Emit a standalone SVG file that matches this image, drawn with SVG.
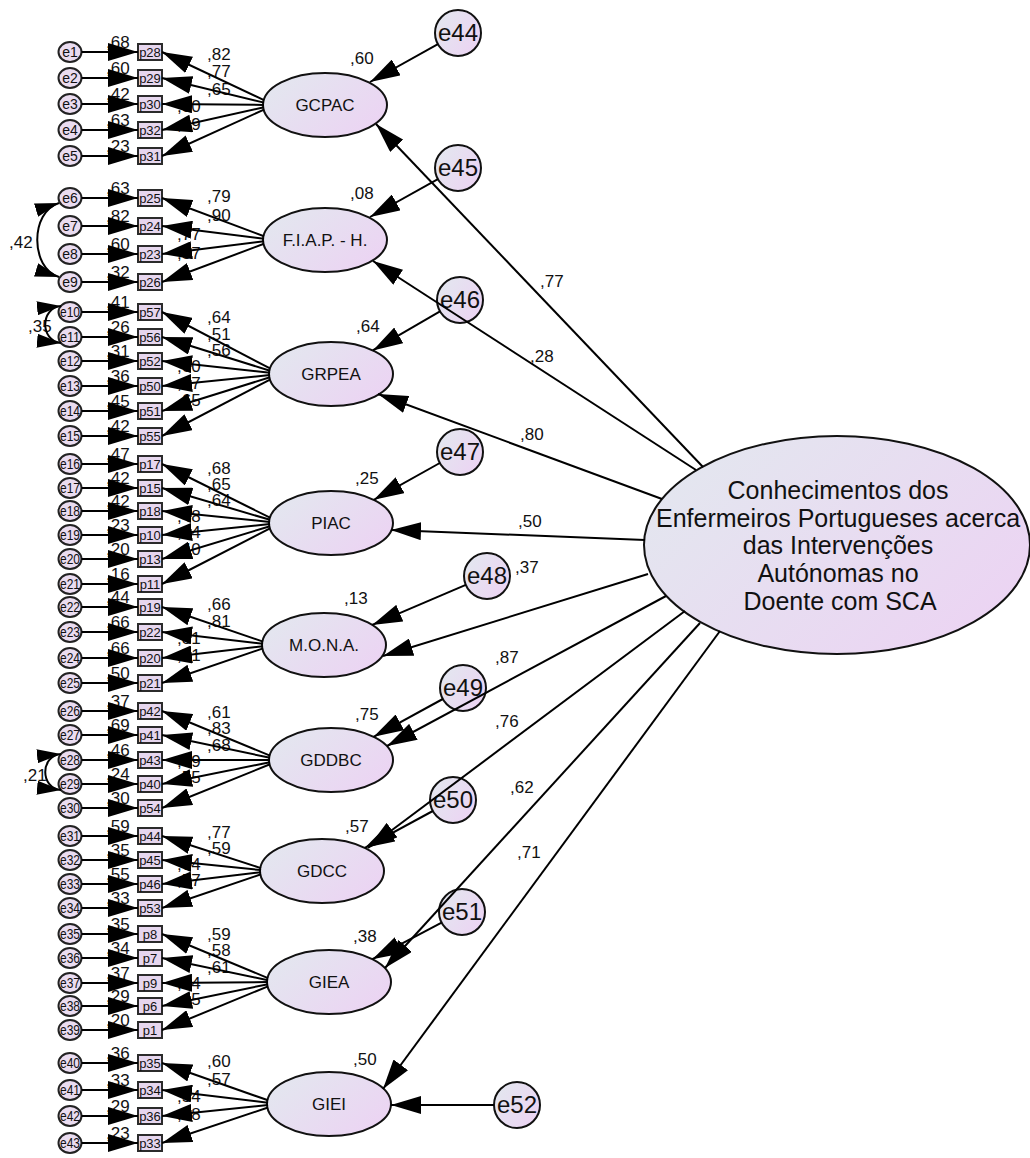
<svg xmlns="http://www.w3.org/2000/svg" width="1030" height="1158" viewBox="0 0 1030 1158">
<defs>
<linearGradient id="g" x1="0" y1="0.2" x2="1" y2="0.8"><stop offset="0" stop-color="#e3e7ef"/><stop offset="1" stop-color="#ecd3f3"/></linearGradient>
<marker id="ah" markerUnits="userSpaceOnUse" markerWidth="30" markerHeight="18" refX="30" refY="9" orient="auto"><path d="M0,0 L30,9 L0,18 Z" fill="#000"/></marker>
<marker id="ac" markerUnits="userSpaceOnUse" markerWidth="24" markerHeight="14" refX="24" refY="7" orient="auto-start-reverse"><path d="M0,0 L24,7 L0,14 Z" fill="#000"/></marker>
</defs>
<style>
text{font-family:"Liberation Sans",Arial,sans-serif;fill:#111}
.lv{fill:url(#g);stroke:#111;stroke-width:2}
.ec{fill:#eadcf0;stroke:#222;stroke-width:2}
.bx{fill:#e6d6ee;stroke:#2b2b2b;stroke-width:2}
.et{font-size:14px;text-anchor:middle}
.bt{font-size:13px;text-anchor:middle}
.n{font-size:17px}
.lt{font-size:17px;text-anchor:middle}
.xt{font-size:24px;text-anchor:middle}
.big{font-size:25px;text-anchor:middle}
.ln{stroke:#000;stroke-width:2;fill:none;marker-end:url(#ah)}
.cv{stroke:#000;stroke-width:2;fill:none;marker-start:url(#ac);marker-end:url(#ac)}
</style>
<rect width="1030" height="1158" fill="#fff"/>

<g id="nodes">
<g id="e1"><ellipse class="ec" cx="70" cy="52" rx="11.5" ry="10"/><text class="et" x="70" y="57">e1</text></g>
<g id="e2"><ellipse class="ec" cx="70" cy="78" rx="11.5" ry="10"/><text class="et" x="70" y="83">e2</text></g>
<g id="e3"><ellipse class="ec" cx="70" cy="104" rx="11.5" ry="10"/><text class="et" x="70" y="109">e3</text></g>
<g id="e4"><ellipse class="ec" cx="70" cy="130" rx="11.5" ry="10"/><text class="et" x="70" y="135">e4</text></g>
<g id="e5"><ellipse class="ec" cx="70" cy="156" rx="11.5" ry="10"/><text class="et" x="70" y="161">e5</text></g>
<g id="e6"><ellipse class="ec" cx="70" cy="198" rx="11.5" ry="10"/><text class="et" x="70" y="203">e6</text></g>
<g id="e7"><ellipse class="ec" cx="70" cy="226" rx="11.5" ry="10"/><text class="et" x="70" y="231">e7</text></g>
<g id="e8"><ellipse class="ec" cx="70" cy="254" rx="11.5" ry="10"/><text class="et" x="70" y="259">e8</text></g>
<g id="e9"><ellipse class="ec" cx="70" cy="282" rx="11.5" ry="10"/><text class="et" x="70" y="287">e9</text></g>
<g id="e10"><ellipse class="ec" cx="70" cy="312" rx="11.5" ry="10"/><text class="et" x="70" y="317" textLength="20" lengthAdjust="spacingAndGlyphs">e10</text></g>
<g id="e11"><ellipse class="ec" cx="70" cy="337" rx="11.5" ry="10"/><text class="et" x="70" y="342" textLength="20" lengthAdjust="spacingAndGlyphs">e11</text></g>
<g id="e12"><ellipse class="ec" cx="70" cy="361" rx="11.5" ry="10"/><text class="et" x="70" y="366" textLength="20" lengthAdjust="spacingAndGlyphs">e12</text></g>
<g id="e13"><ellipse class="ec" cx="70" cy="386" rx="11.5" ry="10"/><text class="et" x="70" y="391" textLength="20" lengthAdjust="spacingAndGlyphs">e13</text></g>
<g id="e14"><ellipse class="ec" cx="70" cy="411" rx="11.5" ry="10"/><text class="et" x="70" y="416" textLength="20" lengthAdjust="spacingAndGlyphs">e14</text></g>
<g id="e15"><ellipse class="ec" cx="70" cy="436" rx="11.5" ry="10"/><text class="et" x="70" y="441" textLength="20" lengthAdjust="spacingAndGlyphs">e15</text></g>
<g id="e16"><ellipse class="ec" cx="70" cy="464" rx="11.5" ry="10"/><text class="et" x="70" y="469" textLength="20" lengthAdjust="spacingAndGlyphs">e16</text></g>
<g id="e17"><ellipse class="ec" cx="70" cy="488" rx="11.5" ry="10"/><text class="et" x="70" y="493" textLength="20" lengthAdjust="spacingAndGlyphs">e17</text></g>
<g id="e18"><ellipse class="ec" cx="70" cy="511" rx="11.5" ry="10"/><text class="et" x="70" y="516" textLength="20" lengthAdjust="spacingAndGlyphs">e18</text></g>
<g id="e19"><ellipse class="ec" cx="70" cy="535" rx="11.5" ry="10"/><text class="et" x="70" y="540" textLength="20" lengthAdjust="spacingAndGlyphs">e19</text></g>
<g id="e20"><ellipse class="ec" cx="70" cy="559" rx="11.5" ry="10"/><text class="et" x="70" y="564" textLength="20" lengthAdjust="spacingAndGlyphs">e20</text></g>
<g id="e21"><ellipse class="ec" cx="70" cy="584" rx="11.5" ry="10"/><text class="et" x="70" y="589" textLength="20" lengthAdjust="spacingAndGlyphs">e21</text></g>
<g id="e22"><ellipse class="ec" cx="70" cy="607" rx="11.5" ry="10"/><text class="et" x="70" y="612" textLength="20" lengthAdjust="spacingAndGlyphs">e22</text></g>
<g id="e23"><ellipse class="ec" cx="70" cy="632" rx="11.5" ry="10"/><text class="et" x="70" y="637" textLength="20" lengthAdjust="spacingAndGlyphs">e23</text></g>
<g id="e24"><ellipse class="ec" cx="70" cy="658" rx="11.5" ry="10"/><text class="et" x="70" y="663" textLength="20" lengthAdjust="spacingAndGlyphs">e24</text></g>
<g id="e25"><ellipse class="ec" cx="70" cy="683" rx="11.5" ry="10"/><text class="et" x="70" y="688" textLength="20" lengthAdjust="spacingAndGlyphs">e25</text></g>
<g id="e26"><ellipse class="ec" cx="70" cy="711" rx="11.5" ry="10"/><text class="et" x="70" y="716" textLength="20" lengthAdjust="spacingAndGlyphs">e26</text></g>
<g id="e27"><ellipse class="ec" cx="70" cy="735" rx="11.5" ry="10"/><text class="et" x="70" y="740" textLength="20" lengthAdjust="spacingAndGlyphs">e27</text></g>
<g id="e28"><ellipse class="ec" cx="70" cy="760" rx="11.5" ry="10"/><text class="et" x="70" y="765" textLength="20" lengthAdjust="spacingAndGlyphs">e28</text></g>
<g id="e29"><ellipse class="ec" cx="70" cy="784" rx="11.5" ry="10"/><text class="et" x="70" y="789" textLength="20" lengthAdjust="spacingAndGlyphs">e29</text></g>
<g id="e30"><ellipse class="ec" cx="70" cy="808" rx="11.5" ry="10"/><text class="et" x="70" y="813" textLength="20" lengthAdjust="spacingAndGlyphs">e30</text></g>
<g id="e31"><ellipse class="ec" cx="70" cy="836" rx="11.5" ry="10"/><text class="et" x="70" y="841" textLength="20" lengthAdjust="spacingAndGlyphs">e31</text></g>
<g id="e32"><ellipse class="ec" cx="70" cy="860" rx="11.5" ry="10"/><text class="et" x="70" y="865" textLength="20" lengthAdjust="spacingAndGlyphs">e32</text></g>
<g id="e33"><ellipse class="ec" cx="70" cy="884" rx="11.5" ry="10"/><text class="et" x="70" y="889" textLength="20" lengthAdjust="spacingAndGlyphs">e33</text></g>
<g id="e34"><ellipse class="ec" cx="70" cy="908" rx="11.5" ry="10"/><text class="et" x="70" y="913" textLength="20" lengthAdjust="spacingAndGlyphs">e34</text></g>
<g id="e35"><ellipse class="ec" cx="70" cy="934" rx="11.5" ry="10"/><text class="et" x="70" y="939" textLength="20" lengthAdjust="spacingAndGlyphs">e35</text></g>
<g id="e36"><ellipse class="ec" cx="70" cy="958" rx="11.5" ry="10"/><text class="et" x="70" y="963" textLength="20" lengthAdjust="spacingAndGlyphs">e36</text></g>
<g id="e37"><ellipse class="ec" cx="70" cy="983" rx="11.5" ry="10"/><text class="et" x="70" y="988" textLength="20" lengthAdjust="spacingAndGlyphs">e37</text></g>
<g id="e38"><ellipse class="ec" cx="70" cy="1006" rx="11.5" ry="10"/><text class="et" x="70" y="1011" textLength="20" lengthAdjust="spacingAndGlyphs">e38</text></g>
<g id="e39"><ellipse class="ec" cx="70" cy="1030" rx="11.5" ry="10"/><text class="et" x="70" y="1035" textLength="20" lengthAdjust="spacingAndGlyphs">e39</text></g>
<g id="e40"><ellipse class="ec" cx="70" cy="1063" rx="11.5" ry="10"/><text class="et" x="70" y="1068" textLength="20" lengthAdjust="spacingAndGlyphs">e40</text></g>
<g id="e41"><ellipse class="ec" cx="70" cy="1090" rx="11.5" ry="10"/><text class="et" x="70" y="1095" textLength="20" lengthAdjust="spacingAndGlyphs">e41</text></g>
<g id="e42"><ellipse class="ec" cx="70" cy="1116" rx="11.5" ry="10"/><text class="et" x="70" y="1121" textLength="20" lengthAdjust="spacingAndGlyphs">e42</text></g>
<g id="e43"><ellipse class="ec" cx="70" cy="1143" rx="11.5" ry="10"/><text class="et" x="70" y="1148" textLength="20" lengthAdjust="spacingAndGlyphs">e43</text></g>

<g id="p28"><rect class="bx" x="138" y="44" width="24" height="16"/><text class="bt" x="150" y="56.5">p28</text></g>
<g id="p29"><rect class="bx" x="138" y="70" width="24" height="16"/><text class="bt" x="150" y="82.5">p29</text></g>
<g id="p30"><rect class="bx" x="138" y="96" width="24" height="16"/><text class="bt" x="150" y="108.5">p30</text></g>
<g id="p32"><rect class="bx" x="138" y="122" width="24" height="16"/><text class="bt" x="150" y="134.5">p32</text></g>
<g id="p31"><rect class="bx" x="138" y="148" width="24" height="16"/><text class="bt" x="150" y="160.5">p31</text></g>
<g id="p25"><rect class="bx" x="138" y="190" width="24" height="16"/><text class="bt" x="150" y="202.5">p25</text></g>
<g id="p24"><rect class="bx" x="138" y="218" width="24" height="16"/><text class="bt" x="150" y="230.5">p24</text></g>
<g id="p23"><rect class="bx" x="138" y="246" width="24" height="16"/><text class="bt" x="150" y="258.5">p23</text></g>
<g id="p26"><rect class="bx" x="138" y="274" width="24" height="16"/><text class="bt" x="150" y="286.5">p26</text></g>
<g id="p57"><rect class="bx" x="138" y="304" width="24" height="16"/><text class="bt" x="150" y="316.5">p57</text></g>
<g id="p56"><rect class="bx" x="138" y="329" width="24" height="16"/><text class="bt" x="150" y="341.5">p56</text></g>
<g id="p52"><rect class="bx" x="138" y="353" width="24" height="16"/><text class="bt" x="150" y="365.5">p52</text></g>
<g id="p50"><rect class="bx" x="138" y="378" width="24" height="16"/><text class="bt" x="150" y="390.5">p50</text></g>
<g id="p51"><rect class="bx" x="138" y="403" width="24" height="16"/><text class="bt" x="150" y="415.5">p51</text></g>
<g id="p55"><rect class="bx" x="138" y="428" width="24" height="16"/><text class="bt" x="150" y="440.5">p55</text></g>
<g id="p17"><rect class="bx" x="138" y="456" width="24" height="16"/><text class="bt" x="150" y="468.5">p17</text></g>
<g id="p15"><rect class="bx" x="138" y="480" width="24" height="16"/><text class="bt" x="150" y="492.5">p15</text></g>
<g id="p18"><rect class="bx" x="138" y="503" width="24" height="16"/><text class="bt" x="150" y="515.5">p18</text></g>
<g id="p10"><rect class="bx" x="138" y="527" width="24" height="16"/><text class="bt" x="150" y="539.5">p10</text></g>
<g id="p13"><rect class="bx" x="138" y="551" width="24" height="16"/><text class="bt" x="150" y="563.5">p13</text></g>
<g id="p11"><rect class="bx" x="138" y="576" width="24" height="16"/><text class="bt" x="150" y="588.5">p11</text></g>
<g id="p19"><rect class="bx" x="138" y="599" width="24" height="16"/><text class="bt" x="150" y="611.5">p19</text></g>
<g id="p22"><rect class="bx" x="138" y="624" width="24" height="16"/><text class="bt" x="150" y="636.5">p22</text></g>
<g id="p20"><rect class="bx" x="138" y="650" width="24" height="16"/><text class="bt" x="150" y="662.5">p20</text></g>
<g id="p21"><rect class="bx" x="138" y="675" width="24" height="16"/><text class="bt" x="150" y="687.5">p21</text></g>
<g id="p42"><rect class="bx" x="138" y="703" width="24" height="16"/><text class="bt" x="150" y="715.5">p42</text></g>
<g id="p41"><rect class="bx" x="138" y="727" width="24" height="16"/><text class="bt" x="150" y="739.5">p41</text></g>
<g id="p43"><rect class="bx" x="138" y="752" width="24" height="16"/><text class="bt" x="150" y="764.5">p43</text></g>
<g id="p40"><rect class="bx" x="138" y="776" width="24" height="16"/><text class="bt" x="150" y="788.5">p40</text></g>
<g id="p54"><rect class="bx" x="138" y="800" width="24" height="16"/><text class="bt" x="150" y="812.5">p54</text></g>
<g id="p44"><rect class="bx" x="138" y="828" width="24" height="16"/><text class="bt" x="150" y="840.5">p44</text></g>
<g id="p45"><rect class="bx" x="138" y="852" width="24" height="16"/><text class="bt" x="150" y="864.5">p45</text></g>
<g id="p46"><rect class="bx" x="138" y="876" width="24" height="16"/><text class="bt" x="150" y="888.5">p46</text></g>
<g id="p53"><rect class="bx" x="138" y="900" width="24" height="16"/><text class="bt" x="150" y="912.5">p53</text></g>
<g id="p8"><rect class="bx" x="138" y="926" width="24" height="16"/><text class="bt" x="150" y="938.5">p8</text></g>
<g id="p7"><rect class="bx" x="138" y="950" width="24" height="16"/><text class="bt" x="150" y="962.5">p7</text></g>
<g id="p9"><rect class="bx" x="138" y="975" width="24" height="16"/><text class="bt" x="150" y="987.5">p9</text></g>
<g id="p6"><rect class="bx" x="138" y="998" width="24" height="16"/><text class="bt" x="150" y="1010.5">p6</text></g>
<g id="p1"><rect class="bx" x="138" y="1022" width="24" height="16"/><text class="bt" x="150" y="1034.5">p1</text></g>
<g id="p35"><rect class="bx" x="138" y="1055" width="24" height="16"/><text class="bt" x="150" y="1067.5">p35</text></g>
<g id="p34"><rect class="bx" x="138" y="1082" width="24" height="16"/><text class="bt" x="150" y="1094.5">p34</text></g>
<g id="p36"><rect class="bx" x="138" y="1108" width="24" height="16"/><text class="bt" x="150" y="1120.5">p36</text></g>
<g id="p33"><rect class="bx" x="138" y="1135" width="24" height="16"/><text class="bt" x="150" y="1147.5">p33</text></g>

<g id="GCPAC"><ellipse class="lv" cx="325" cy="105" rx="62" ry="32"/><text class="lt" x="325" y="111">GCPAC</text></g>
<g id="FIAPH"><ellipse class="lv" cx="325" cy="240" rx="62" ry="32"/><text class="lt" x="325" y="246">F.I.A.P. - H.</text></g>
<g id="GRPEA"><ellipse class="lv" cx="331" cy="374" rx="62" ry="32"/><text class="lt" x="331" y="380">GRPEA</text></g>
<g id="PIAC"><ellipse class="lv" cx="331" cy="523" rx="62" ry="32"/><text class="lt" x="331" y="529">PIAC</text></g>
<g id="MONA"><ellipse class="lv" cx="324" cy="645" rx="62" ry="32"/><text class="lt" x="324" y="651">M.O.N.A.</text></g>
<g id="GDDBC"><ellipse class="lv" cx="331" cy="760" rx="62" ry="32"/><text class="lt" x="331" y="766">GDDBC</text></g>
<g id="GDCC"><ellipse class="lv" cx="322" cy="871" rx="62" ry="32"/><text class="lt" x="322" y="877">GDCC</text></g>
<g id="GIEA"><ellipse class="lv" cx="329" cy="982" rx="62" ry="32"/><text class="lt" x="329" y="988">GIEA</text></g>
<g id="GIEI"><ellipse class="lv" cx="329" cy="1104" rx="62" ry="32"/><text class="lt" x="329" y="1110">GIEI</text></g>

<g id="CEP"><ellipse class="lv" cx="837" cy="545" rx="193" ry="109"/>
<text class="big" x="838" y="499">Conhecimentos dos</text>
<text class="big" x="838" y="527">Enfermeiros Portugueses acerca</text>
<text class="big" x="838" y="554">das Intervenções</text>
<text class="big" x="838" y="582">Autónomas no</text>
<text class="big" x="840" y="610">Doente com SCA</text></g>

<g id="e44"><circle class="lv" cx="458" cy="33" r="23"/><text class="xt" x="458" y="41">e44</text></g>
<g id="e45"><circle class="lv" cx="458" cy="168" r="23"/><text class="xt" x="458" y="176">e45</text></g>
<g id="e46"><circle class="lv" cx="460" cy="300" r="23"/><text class="xt" x="460" y="308">e46</text></g>
<g id="e47"><circle class="lv" cx="460" cy="452" r="23"/><text class="xt" x="460" y="460">e47</text></g>
<g id="e48"><circle class="lv" cx="487" cy="576" r="23"/><text class="xt" x="487" y="584">e48</text></g>
<g id="e49"><circle class="lv" cx="463" cy="688" r="23"/><text class="xt" x="463" y="696">e49</text></g>
<g id="e50"><circle class="lv" cx="453" cy="800" r="23"/><text class="xt" x="453" y="808">e50</text></g>
<g id="e51"><circle class="lv" cx="462" cy="912" r="23"/><text class="xt" x="462" y="920">e51</text></g>
<g id="e52"><circle class="lv" cx="517" cy="1105" r="23"/><text class="xt" x="517" y="1113">e52</text></g>
</g>

<g id="labels" class="n">
<text x="106" y="48">,68</text><text x="106" y="74">,60</text><text x="106" y="100">,42</text><text x="106" y="126">,63</text><text x="106" y="152">,23</text>
<text x="106" y="194">,63</text><text x="106" y="222">,82</text><text x="106" y="250">,60</text><text x="106" y="278">,32</text>
<text x="106" y="308">,41</text><text x="106" y="333">,26</text><text x="106" y="357">,31</text><text x="106" y="382">,36</text><text x="106" y="407">,45</text><text x="106" y="432">,42</text>
<text x="106" y="460">,47</text><text x="106" y="484">,42</text><text x="106" y="507">,42</text><text x="106" y="531">,23</text><text x="106" y="555">,20</text><text x="106" y="580">,16</text>
<text x="106" y="603">,44</text><text x="106" y="628">,66</text><text x="106" y="654">,66</text><text x="106" y="679">,50</text>
<text x="106" y="707">,37</text><text x="106" y="731">,69</text><text x="106" y="756">,46</text><text x="106" y="780">,24</text><text x="106" y="804">,30</text>
<text x="106" y="832">,59</text><text x="106" y="856">,35</text><text x="106" y="880">,55</text><text x="106" y="904">,33</text>
<text x="106" y="930">,35</text><text x="106" y="954">,34</text><text x="106" y="979">,37</text><text x="106" y="1002">,29</text><text x="106" y="1026">,20</text>
<text x="106" y="1059">,36</text><text x="106" y="1086">,33</text><text x="106" y="1112">,29</text><text x="106" y="1139">,23</text>

<text x="207" y="60">,82</text><text x="207" y="77">,77</text><text x="207" y="95">,65</text><text x="177" y="112">,80</text><text x="177" y="130">,49</text>
<text x="207" y="202">,79</text><text x="207" y="221">,90</text><text x="177" y="240">,77</text><text x="177" y="259">,57</text>
<text x="207" y="323">,64</text><text x="207" y="340">,51</text><text x="207" y="356">,56</text><text x="177" y="372">,60</text><text x="177" y="389">,67</text><text x="177" y="406">,65</text>
<text x="207" y="474">,68</text><text x="207" y="490">,65</text><text x="207" y="506">,64</text><text x="177" y="522">,48</text><text x="177" y="538">,44</text><text x="177" y="555">,40</text>
<text x="207" y="610">,66</text><text x="207" y="627">,81</text><text x="177" y="644">,81</text><text x="177" y="661">,71</text>
<text x="207" y="718">,61</text><text x="207" y="734">,83</text><text x="207" y="751">,68</text><text x="177" y="767">,49</text><text x="177" y="783">,55</text>
<text x="207" y="838">,77</text><text x="207" y="854">,59</text><text x="177" y="870">,74</text><text x="177" y="886">,57</text>
<text x="207" y="940">,59</text><text x="207" y="956">,58</text><text x="207" y="973">,61</text><text x="177" y="989">,54</text><text x="177" y="1005">,45</text>
<text x="207" y="1067">,60</text><text x="207" y="1085">,57</text><text x="177" y="1102">,54</text><text x="177" y="1120">,48</text>

<text x="9" y="248">,42</text><text x="28" y="332">,35</text><text x="23" y="781">,21</text>

<text x="350" y="64">,60</text><text x="350" y="199">,08</text><text x="356" y="332">,64</text><text x="355" y="484">,25</text><text x="344" y="604">,13</text><text x="355" y="720">,75</text><text x="345" y="832">,57</text><text x="353" y="942">,38</text><text x="353" y="1065">,50</text>

<text x="540" y="287">,77</text><text x="530" y="362">,28</text><text x="520" y="440">,80</text><text x="518" y="527">,50</text><text x="515" y="573">,37</text><text x="495" y="663">,87</text><text x="495" y="727">,76</text><text x="510" y="793">,62</text><text x="517" y="858">,71</text>
</g>

<g id="connectors">
<path class="ln" d="M81.5,52 L138,52"/><path class="ln" d="M81.5,78 L138,78"/><path class="ln" d="M81.5,104 L138,104"/><path class="ln" d="M81.5,130 L138,130"/><path class="ln" d="M81.5,156 L138,156"/>
<path class="ln" d="M81.5,198 L138,198"/><path class="ln" d="M81.5,226 L138,226"/><path class="ln" d="M81.5,254 L138,254"/><path class="ln" d="M81.5,282 L138,282"/>
<path class="ln" d="M81.5,312 L138,312"/><path class="ln" d="M81.5,337 L138,337"/><path class="ln" d="M81.5,361 L138,361"/><path class="ln" d="M81.5,386 L138,386"/><path class="ln" d="M81.5,411 L138,411"/><path class="ln" d="M81.5,436 L138,436"/>
<path class="ln" d="M81.5,464 L138,464"/><path class="ln" d="M81.5,488 L138,488"/><path class="ln" d="M81.5,511 L138,511"/><path class="ln" d="M81.5,535 L138,535"/><path class="ln" d="M81.5,559 L138,559"/><path class="ln" d="M81.5,584 L138,584"/>
<path class="ln" d="M81.5,607 L138,607"/><path class="ln" d="M81.5,632 L138,632"/><path class="ln" d="M81.5,658 L138,658"/><path class="ln" d="M81.5,683 L138,683"/>
<path class="ln" d="M81.5,711 L138,711"/><path class="ln" d="M81.5,735 L138,735"/><path class="ln" d="M81.5,760 L138,760"/><path class="ln" d="M81.5,784 L138,784"/><path class="ln" d="M81.5,808 L138,808"/>
<path class="ln" d="M81.5,836 L138,836"/><path class="ln" d="M81.5,860 L138,860"/><path class="ln" d="M81.5,884 L138,884"/><path class="ln" d="M81.5,908 L138,908"/>
<path class="ln" d="M81.5,934 L138,934"/><path class="ln" d="M81.5,958 L138,958"/><path class="ln" d="M81.5,983 L138,983"/><path class="ln" d="M81.5,1006 L138,1006"/><path class="ln" d="M81.5,1030 L138,1030"/>
<path class="ln" d="M81.5,1063 L138,1063"/><path class="ln" d="M81.5,1090 L138,1090"/><path class="ln" d="M81.5,1116 L138,1116"/><path class="ln" d="M81.5,1143 L138,1143"/>

<path class="ln" d="M264,100.2 L162,52"/><path class="ln" d="M264,102.6 L162,78"/><path class="ln" d="M264,104.9 L162,104"/><path class="ln" d="M264,107.3 L162,130"/><path class="ln" d="M264,109.6 L162,156"/>
<path class="ln" d="M264,236.2 L162,198"/><path class="ln" d="M264,238.7 L162,226"/><path class="ln" d="M264,241.3 L162,254"/><path class="ln" d="M264,243.8 L162,282"/>
<path class="ln" d="M270,368.4 L162,312"/><path class="ln" d="M270,370.7 L162,337"/><path class="ln" d="M270,372.8 L162,361"/><path class="ln" d="M270,375.1 L162,386"/><path class="ln" d="M270,377.3 L162,411"/><path class="ln" d="M270,379.6 L162,436"/>
<path class="ln" d="M270,517.7 L162,464"/><path class="ln" d="M270,519.8 L162,488"/><path class="ln" d="M270,521.9 L162,511"/><path class="ln" d="M270,524.1 L162,535"/><path class="ln" d="M270,526.2 L162,559"/><path class="ln" d="M270,528.4 L162,584"/>
<path class="ln" d="M263,641.6 L162,607"/><path class="ln" d="M263,643.8 L162,632"/><path class="ln" d="M263,646.2 L162,658"/><path class="ln" d="M263,648.4 L162,683"/>
<path class="ln" d="M270,755.6 L162,711"/><path class="ln" d="M270,757.8 L162,735"/><path class="ln" d="M270,760 L162,760"/><path class="ln" d="M270,762.2 L162,784"/><path class="ln" d="M270,764.3 L162,808"/>
<path class="ln" d="M261,868.1 L162,836"/><path class="ln" d="M261,870.1 L162,860"/><path class="ln" d="M261,872.2 L162,884"/><path class="ln" d="M261,874.3 L162,908"/>
<path class="ln" d="M268,978.1 L162,934"/><path class="ln" d="M268,980.2 L162,958"/><path class="ln" d="M268,982.1 L162,983"/><path class="ln" d="M268,984.2 L162,1006"/><path class="ln" d="M268,986.3 L162,1030"/>
<path class="ln" d="M268,1100.3 L162,1063"/><path class="ln" d="M268,1102.7 L162,1090"/><path class="ln" d="M268,1105.1 L162,1116"/><path class="ln" d="M268,1107.5 L162,1143"/>

<path class="cv" d="M59,203 C30,212 30,268 59,277"/>
<path class="cv" d="M61,306 C40,308 40,341 61,343"/>
<path class="cv" d="M61,754 C40,756 40,788 61,790"/>

<path class="ln" d="M437.9,44.2 L370,82"/>
<path class="ln" d="M437.9,179.2 L370,217"/>
<path class="ln" d="M440,311.3 L372.8,350.4"/>
<path class="ln" d="M439.8,463 L373.8,499.8"/>
<path class="ln" d="M465.8,584.9 L372.2,624.9"/>
<path class="ln" d="M442.8,699 L373.6,736.8"/>
<path class="ln" d="M432.8,811 L364.8,847.8"/>
<path class="ln" d="M441.6,922.7 L372.4,959.2"/>
<path class="ln" d="M494,1105 L391,1105"/>

<path class="ln" d="M703,467 L376,124"/>
<path class="ln" d="M696,470 L373,261"/>
<path class="ln" d="M662,499 L378,394"/>
<path class="ln" d="M645,540 L391,530"/>
<path class="ln" d="M648,574 L383,656"/>
<path class="ln" d="M666,596 L387,746"/>
<path class="ln" d="M685,611 L368,848"/>
<path class="ln" d="M700,623 L385,968"/>
<path class="ln" d="M720,631 L383,1089"/>
</g>
</svg>
